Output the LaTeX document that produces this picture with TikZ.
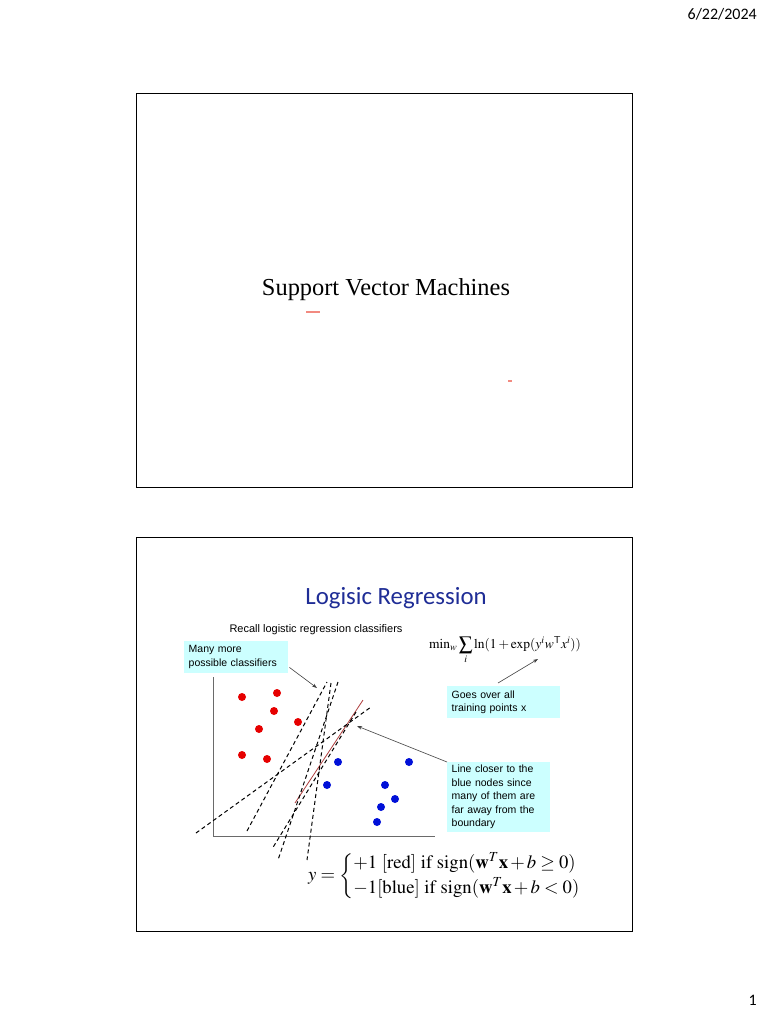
\documentclass[tikz,border=0pt]{standalone}
\usepackage{amsmath}
\usepackage{mathptmx}
\usepackage{fontspec}
\setmainfont{Liberation Serif}
\setsansfont{Liberation Sans}
\newfontfamily\calibri{Carlito}
\usetikzlibrary{arrows.meta,positioning,calc}
\definecolor{ink}{HTML}{000000}
\definecolor{axisgray}{HTML}{6A6A6A}
\definecolor{titleblue}{HTML}{1F2D96}
\definecolor{callcyan}{HTML}{CCFFFF}
\definecolor{dotred}{HTML}{E60000}
\definecolor{dotblue}{HTML}{0010D8}
\definecolor{fitred}{HTML}{B04040}
\definecolor{marksalmon}{HTML}{F28A80}

\begin{document}
\begin{tikzpicture}[
  x=1pt,y=-1pt,
  every node/.style={inner sep=0pt},
  slide/.style={draw=ink,line width=0.8pt},
  callout/.style={fill=callcyan,font=\sffamily\fontsize{10.5}{13.5}\selectfont,align=left,anchor=north west,inner xsep=4.5pt,inner ysep=3pt},
  classifier/.style={line width=1pt,dash pattern=on 4pt off 3pt},
  pointer/.style={draw=black!75,line width=0.6pt,-{Stealth[length=5pt,width=3.5pt]}},
  axis/.style={draw=axisgray,line width=0.9pt}
]
\useasboundingbox (0,0) rectangle (768,1024);
\fill[white] (0,0) rectangle (768,1024);

% header and page number
\node[anchor=east,font=\calibri\fontsize{16}{18}\selectfont] (date) at (757,14) {6/22/2024};
\node[anchor=east,font=\calibri\fontsize{16}{18}\selectfont] (page) at (757,1000) {1};

% slide 1
\draw[slide] (136,93) rectangle (632,487);
\node[font=\fontsize{24.4}{28}\selectfont] (svm) at (386,290) {Support Vector Machines};
\draw[marksalmon,line width=1.2pt] (306,312) -- (320,312);
\draw[marksalmon,line width=1.2pt] (508,381) -- (512,381);

% slide 2
\draw[slide] (136,537) rectangle (632,931);
\node[font=\calibri\fontsize{24.8}{28}\selectfont,text=titleblue] (title) at (396,598) {Logisic Regression};
\node[font=\sffamily\fontsize{11}{13}\selectfont] (recall) at (316,630) {Recall logistic regression classifiers};
\node[anchor=west,font=\fontsize{13.5}{15}\selectfont] (loss) at (429,650)
  {$\displaystyle\min\nolimits_{w}\sum_{i}\ln(1+\exp(y^{i}w^{\mathsf{T}}x^{i}))$};

% plot axes and points
\draw[axis] (213,677) |- (435,836);
\foreach \p in {(242,697),(277,693),(274,711),(298,722),(259,729),(242,755),(267,759)}
  \fill[dotred] \p circle (4);
\foreach \p in {(338,762),(409,762),(327,785),(385,785),(395,799),(381,807),(377,822)}
  \fill[dotblue] \p circle (4);

% candidate classifiers
\draw[fitred,line width=0.8pt] (363,700) -- (295,803);
\draw[classifier] (196,833) -- (371,707);
\draw[classifier] (247,831) -- (327,682);
\draw[classifier] (331,683) -- (307,860);
\draw[classifier] (338,682) -- (278,860);
\draw[classifier] (356,712) -- (272,849);

% callouts
\node[callout,minimum width=104,minimum height=32,text width=95] (many) at (184,641) {Many more\\possible classifiers};
\node[callout,minimum width=113,minimum height=32,text width=104] (goes) at (447,686) {Goes over all\\training points x};
\node[callout,minimum width=103,minimum height=67,text width=94] (closer) at (447,762) {Line closer to the\\blue nodes since\\many of them are\\far away from the\\boundary};

\coordinate (manytip) at (317,688);
\coordinate (goestip) at (538,659);
\coordinate (closertip) at (357,726);
\draw[pointer] (many.south east) ++(1,-6) -- (manytip);
\draw[pointer] ($(goes.north west)+(51,-3)$) -- (goestip);
\draw[pointer] (closer.north west) -- (closertip);

% decision rule
\node[anchor=west,font=\fontsize{18.7}{23}\selectfont] (rule) at (308,876)
  {$y=\left\{\begin{array}{@{}l@{}}
    {+}1\ [\mathrm{red}]\ \mathrm{if}\ \mathrm{sign}(\mathbf{w}^{T}\mathbf{x}\,{+}\,b\geq 0)\\[2pt]
    {-}1[\mathrm{blue}]\ \mathrm{if}\ \mathrm{sign}(\mathbf{w}^{T}\mathbf{x}\,{+}\,b<0)
  \end{array}\right.$};
\end{tikzpicture}
\end{document}
